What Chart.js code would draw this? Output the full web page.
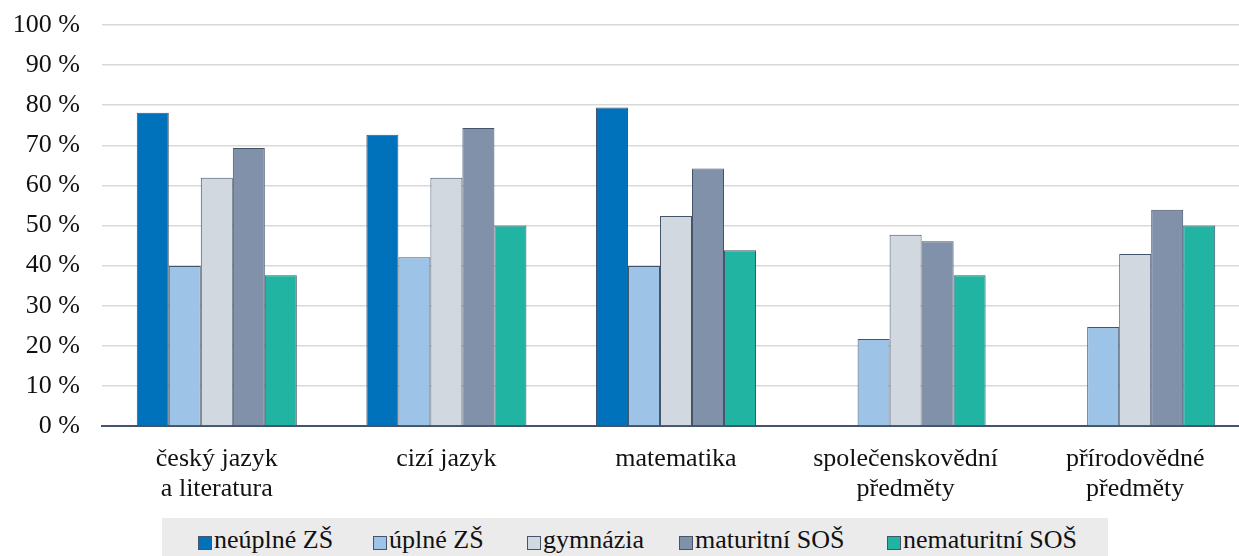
<!DOCTYPE html>
<html>
<head>
<meta charset="utf-8">
<script src="https://cdn.jsdelivr.net/npm/chart.js@4"></script>
<style>
  html, body { margin: 0; padding: 0; background: #fff; overflow: hidden; width: 1239px; height: 556px; }
  #wrap { position: relative; width: 1250px; height: 518px; }
  #legend {
    position: absolute; left: 162px; top: 518px; width: 946px; height: 40px;
    background: #ebebeb;
    font-family: "Liberation Serif", "Times New Roman", serif; font-size: 26px; line-height: 26px; color: #111;
  }
  .sw { position: absolute; top: 18px; width: 14px; height: 14px; box-sizing: border-box; border: 1px solid #44546a; }
  .tx { position: absolute; top: 9px; white-space: nowrap; }
</style>
</head>
<body>
<div id="wrap"><canvas id="c" width="1250" height="518"></canvas></div>
<div id="legend"></div>
<script>
const categories = [["český jazyk", "a literatura"], "cizí jazyk", "matematika", ["společenskovědní", "předměty"], ["přírodovědné", "předměty"]];
const seriesNames = ["neúplné ZŠ", "úplné ZŠ", "gymnázia", "maturitní SOŠ", "nematuritní SOŠ"];
const neuplneZS = [78.1, 72.6, 79.4, null, null];
const uplneZS = [39.9, 42.1, 39.9, 21.7, 24.7];
const gymnazia = [61.9, 61.9, 52.4, 47.7, 42.9];
const maturitniSOS = [69.3, 74.3, 64.2, 46.1, 53.9];
const nematuritniSOS = [37.6, 50.0, 43.8, 37.6, 50.0];
const yTicks = [0, 10, 20, 30, 40, 50, 60, 70, 80, 90, 100];

const colors = ["#0072bb", "#9dc3e6", "#d1d8e0", "#8191a9", "#22b4a2"];
const values = [neuplneZS, uplneZS, gymnazia, maturitniSOS, nematuritniSOS];
const FONT = "'Liberation Serif', 'Times New Roman', serif";

const datasets = seriesNames.map((n, i) => ({
  label: n,
  data: values[i],
  backgroundColor: colors[i],
  borderColor: "#44546a",
  borderWidth: 1,
  categoryPercentage: 0.697,
  barPercentage: 1.0
}));

new Chart(document.getElementById("c"), {
  type: "bar",
  data: { labels: categories, datasets },
  options: {
    responsive: false,
    animation: false,
    layout: { padding: { top: 25, left: 0, right: 0, bottom: 0 } },
    plugins: { legend: { display: false }, tooltip: { enabled: false } },
    scales: {
      x: {
        grid: { display: false, drawTicks: false },
        border: { display: true, color: "#44546a", width: 2 },
        ticks: {
          color: "#111", padding: 19, maxRotation: 0, autoSkip: false,
          font: { family: FONT, size: 26, lineHeight: 1.12 }
        },
        afterFit: s => { s.height = 92; }
      },
      y: {
        min: 0, max: 100,
        afterBuildTicks: s => { s.ticks = yTicks.map(v => ({ value: v })); },
        grid: { color: "#d9d9d9", lineWidth: 1.5, drawTicks: false },
        border: { display: false },
        ticks: {
          color: "#111", padding: 22,
          font: { family: FONT, size: 26 },
          callback: v => v + " %"
        },
        afterFit: s => { s.width = 102; s.paddingTop = 0; s.paddingBottom = 0; }
      }
    }
  }
});

// legend item left offsets (px inside legend box)
const legendLefts = [36, 211, 365, 517, 725];
const lg = document.getElementById("legend");
seriesNames.forEach((n, i) => {
  const sw = document.createElement("div"); sw.className = "sw";
  sw.style.background = colors[i]; sw.style.left = legendLefts[i] + "px";
  const t = document.createElement("span"); t.className = "tx";
  t.textContent = n; t.style.left = (legendLefts[i] + 16) + "px";
  lg.appendChild(sw); lg.appendChild(t);
});
</script>
</body>
</html>
